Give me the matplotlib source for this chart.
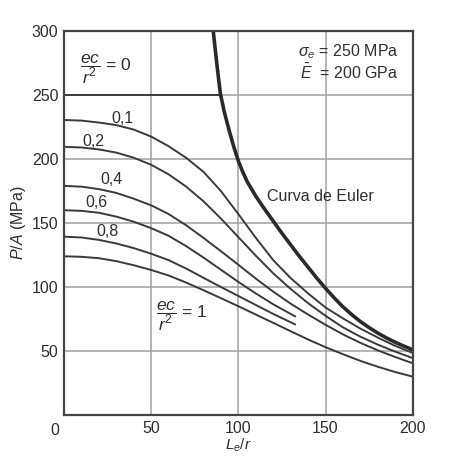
import matplotlib
matplotlib.use('Agg')
import matplotlib.pyplot as plt

plt.rcParams['font.family'] = ['Liberation Sans', 'DejaVu Sans']
plt.rcParams['mathtext.fontset'] = 'custom'
plt.rcParams['mathtext.rm'] = 'Liberation Sans'
plt.rcParams['mathtext.it'] = 'Liberation Sans:italic'

# slenderness ratio grid (Le/r) and P/A curves
lr = [0, 10, 20, 30, 40, 50, 60, 70, 80, 90, 100,
      110, 120, 130, 140, 150, 160, 170, 180, 190, 200]
lr_short = [0, 10, 20, 30, 40, 50, 60, 70, 80, 90, 100, 110, 120, 133]

ec_01 = [230.5, 230, 228.5, 226.5, 223, 217.5, 210, 201, 190, 175, 157,
         138.5, 121, 107, 95, 84, 75.5, 67.5, 60.5, 54, 48.5]
ec_02 = [209.5, 209, 207.5, 205, 201, 195.5, 188, 178.5, 167, 153.5, 139,
         124.5, 110.7, 98.5, 87.4, 77.5, 68.5, 61.2, 55, 49.5, 44.5]
ec_04 = [179, 178.4, 176.5, 173.5, 169, 163.8, 157, 148.3, 138.4, 128, 117.4,
         106.6, 96.4, 87, 78.5, 70.5, 63, 56.4, 50.5, 45.3, 40.5]
ec_06 = [160, 159.5, 158, 155, 151, 146, 140, 132, 123, 113.5, 104, 95, 86.5, 76.7]
ec_08 = [139.3, 138.7, 136.8, 134, 130.4, 126, 121, 114.5, 107.2, 100, 93, 86, 79, 70.5]
ec_10 = [124, 123.6, 122.5, 120.2, 117, 113.3, 109, 103.5, 97.5, 91.3, 85,
         78.5, 72, 65.5, 59, 53, 47.5, 42.3, 37.7, 33.6, 30]

ec_0_x = [0, 89.5]
ec_0_y = [250, 250]

euler_x = [85.6, 87.7, 89.7, 92, 95, 97.5, 100, 102.5, 105, 110, 115, 120, 125, 130,
           135, 140, 145, 150, 155, 160, 165, 170, 175, 180, 185, 190, 195, 200]
euler_y = [300, 274, 251, 236.5, 221, 209, 198.5, 190, 182.5, 171, 161, 151.5, 142, 133,
           124, 115.5, 107, 99, 91.5, 84.5, 78.5, 73, 68.3, 64, 60.2, 56.8, 53.8, 51]

xticks = [50, 100, 150, 200]
yticks = [50, 100, 150, 200, 250, 300]

ink = '#3a3a3a'
txt = '#2e2e2e'
fig = plt.figure(figsize=(4.49, 4.62), dpi=100)
ax = fig.add_axes([0.1425, 0.1017, 0.7766, 0.8312])

ax.grid(True, color='#a0a0a0', lw=1.1)
ax.set_axisbelow(True)

kw = dict(color=ink, lw=1.4, solid_capstyle='butt', solid_joinstyle='round')
ax.plot(ec_0_x, ec_0_y, **kw)
ax.plot(lr, ec_01, **kw)
ax.plot(lr, ec_02, **kw)
ax.plot(lr, ec_04, **kw)
ax.plot(lr_short, ec_06, **kw)
ax.plot(lr_short, ec_08, **kw)
ax.plot(lr, ec_10, **kw)
ax.plot(euler_x, euler_y, color='#2a2a2a', lw=2.6, solid_joinstyle='round')

ax.set_xlim(0, 200)
ax.set_ylim(0, 300)
ax.set_xticks(xticks)
ax.set_yticks(yticks)
ax.tick_params(length=0, labelsize=11.5, colors=txt, pad=4)
for s in ax.spines.values():
    s.set_color('#444444')
    s.set_linewidth(1.6)

ax.text(-3, -6, '0', fontsize=11.5, color=txt, ha='right', va='top')

ax.set_ylabel('$P/A$ (MPa)', fontsize=11.5, color=txt, labelpad=3)
ax.set_xlabel('$L_e/r$', fontsize=11, color=txt, labelpad=1)

tk = dict(fontsize=11.5, color=txt)
ax.text(9, 270, r'$\dfrac{ec}{r^2}$ = 0', va='center', ha='left', fontsize=12.5, color=txt)
ax.text(33.5, 232, '0,1', ha='center', va='center', **tk)
ax.text(17, 214, '0,2', ha='center', va='center', **tk)
ax.text(27.3, 184, '0,4', ha='center', va='center', **tk)
ax.text(18.7, 166, '0,6', ha='center', va='center', **tk)
ax.text(25, 143, '0,8', ha='center', va='center', **tk)
ax.text(53, 77, r'$\dfrac{ec}{r^2}$ = 1', va='center', ha='left', fontsize=12.5, color=txt)
ax.text(116.5, 170.5, 'Curva de Euler', ha='left', va='center', **tk)
ax.text(192, 284, r'$\sigma_e$ = 250 MPa', ha='right', va='center', **tk)
ax.text(192, 268, r'$\bar{E}$  = 200 GPa', ha='right', va='center', **tk)

fig.savefig('out.png', dpi=100)
